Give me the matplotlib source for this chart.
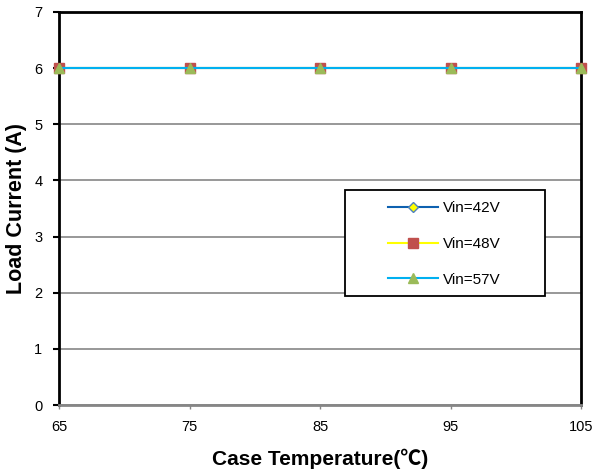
import matplotlib.pyplot as plt
from matplotlib.patches import Rectangle

plt.rcParams['font.family'] = ['Liberation Sans', 'DejaVu Sans']

# === Data ===
temps = [65, 75, 85, 95, 105]
vin42 = [6, 6, 6, 6, 6]
vin48 = [6, 6, 6, 6, 6]
vin57 = [6, 6, 6, 6, 6]

fig = plt.figure(figsize=(5.96, 4.75), dpi=100)
ax = fig.add_axes([0.099, 0.147, 0.876, 0.828])

ax.plot(temps, vin42, color='#0E61B0', lw=1.5, marker='D', ms=5,
        mfc='#FFFF00', mec='#4F81BD', mew=1, label='Vin=42V', clip_on=False, zorder=3)
ax.plot(temps, vin48, color='#FFFF00', lw=1.5, marker='s', ms=6.5,
        mfc='#C0504D', mec='#C0504D', label='Vin=48V', clip_on=False, zorder=4)
ax.plot(temps, vin57, color='#00B0F0', lw=1.5, marker='^', ms=7,
        mfc='#9BBB59', mec='#9BBB59', label='Vin=57V', clip_on=False, zorder=5)

ax.set_xlim(65, 105)
ax.set_ylim(0, 7)
ax.set_xticks(temps)
ax.set_yticks(range(0, 8))
ax.grid(axis='y', color='#868686', lw=1.2)
ax.set_axisbelow(True)

for s in ['left', 'top', 'right']:
    ax.spines[s].set_color('black')
    ax.spines[s].set_linewidth(2)
ax.spines['bottom'].set_color('#868686')
ax.spines['bottom'].set_linewidth(2)

ax.tick_params(axis='y', length=4, width=1.5, color='black', labelsize=10.5, pad=8)
ax.tick_params(axis='x', length=3, width=1, color='#868686', labelsize=10.5, pad=8)

ax.set_xlabel('Case Temperature(℃)', fontsize=15, fontweight='bold', labelpad=10,
              family=['Liberation Sans', 'Noto Sans CJK SC', 'DejaVu Sans'])
ax.set_ylabel('Load Current (A)', fontsize=15.5, fontweight='bold', labelpad=5)

# legend box drawn by hand, legend entries placed inside it
box = Rectangle((345 / 596, 1 - 296 / 475), 200 / 596, 106 / 475,
                transform=fig.transFigure, facecolor='white', edgecolor='black',
                lw=1.3, clip_on=False, zorder=6)
ax.add_patch(box)

leg = ax.legend(loc='upper left', bbox_to_anchor=(388 / 596, 1 - 201 / 475),
                bbox_transform=fig.transFigure, frameon=False,
                fontsize=11, borderpad=0, labelspacing=1.43, handlelength=3.3,
                handletextpad=0.3, borderaxespad=0)
leg.set_zorder(7)

fig.savefig('out.png', dpi=100)
